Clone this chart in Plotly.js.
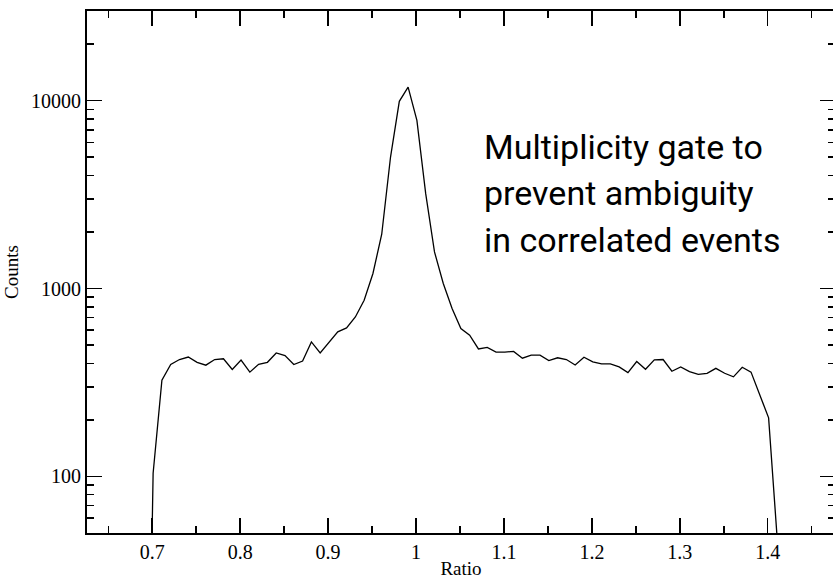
<!DOCTYPE html>
<html>
<head>
<meta charset="utf-8">
<script src="https://cdn.plot.ly/plotly-3.0.1.min.js"></script>
<style>html,body{margin:0;padding:0;overflow:hidden;background:#fff;}#chart{width:836px;height:579px;}</style>
</head>
<body>
<div id="chart"></div>
<script>
// Ratio bin positions
const ratio = [0.691,0.701,0.711,0.721,0.731,0.741,0.751,0.761,0.771,0.781,0.791,
  0.801,0.811,0.821,0.831,0.841,0.851,0.861,0.871,0.881,0.891,
  0.901,0.911,0.921,0.931,0.941,0.951,0.961,0.971,0.981,0.991,
  1.001,1.011,1.021,1.031,1.041,1.051,1.061,1.071,1.081,1.091,
  1.101,1.111,1.121,1.131,1.141,1.151,1.161,1.171,1.181,1.191,
  1.201,1.211,1.221,1.231,1.241,1.251,1.261,1.271,1.281,1.291,
  1.301,1.311,1.321,1.331,1.341,1.351,1.361,1.371,1.381,1.391,
  1.401,1.411];
// Counts per bin
const counts = [0.2,104,325,394,419,432,405,391,419,423,371,
  416,359,395,405,454,440,394,411,520,454,
  518,588,617,706,866,1203,1946,5010,9920,11810,
  7860,3200,1567,1064,783,612,565,477,486,459,
  459,463,426,442,442,414,428,419,392,431,
  407,397,397,383,357,409,372,417,419,363,
  383,361,349,354,376,354,339,381,359,270,
  205,45];
const xMajor = [0.7,0.8,0.9,1.0,1.1,1.2,1.3,1.4];
const xMajorText = ['0.7','0.8','0.9','1','1.1','1.2','1.3','1.4'];
const yMajor = [100,1000,10000];
const yMajorText = ['100','1000','10000'];
const yMinor = [60,70,80,90,200,300,400,500,600,700,800,900,2000,3000,4000,5000,6000,7000,8000,9000,20000];
const noteLines = ['Multiplicity gate to','prevent ambiguity','in correlated events'];
const noteY = [0.7824, 0.6929, 0.6034];

const serif = 'Liberation Serif, Times New Roman, serif';
const yRange = [Math.log10(50), Math.log10(30000)];

const trace = {
  x: ratio, y: counts, type: 'scatter', mode: 'lines',
  line: {color: '#000', width: 1.3}, hoverinfo: 'skip', showlegend: false
};

const layout = {
  width: 836, height: 579,
  margin: {l: 87, r: 1, t: 11, b: 46},
  paper_bgcolor: '#fff', plot_bgcolor: '#fff',
  showlegend: false,
  xaxis: {
    range: [0.6258, 1.4765],
    tickvals: xMajor, ticktext: xMajorText,
    ticks: 'inside', ticklen: 15, tickwidth: 1.5, tickcolor: '#000',
    minor: {dtick: 0.05, tick0: 0, ticks: 'inside', ticklen: 7, tickwidth: 1.5, tickcolor: '#000'},
    showline: true, linecolor: '#000', linewidth: 2, mirror: 'ticks',
    showgrid: false, zeroline: false,
    tickfont: {family: serif, size: 20, color: '#000'},
    title: {text: 'Ratio', font: {family: serif, size: 19, color: '#000'}, standoff: 1}
  },
  yaxis: {
    type: 'log', range: yRange,
    tickvals: yMajor, ticktext: yMajorText,
    ticks: 'inside', ticklen: 15, tickwidth: 1.5, tickcolor: '#000',
    minor: {tickvals: yMinor, ticks: 'inside', ticklen: 7, tickwidth: 1.5, tickcolor: '#000'},
    showline: true, linecolor: '#000', linewidth: 2, mirror: 'ticks',
    showgrid: false, zeroline: false,
    tickfont: {family: serif, size: 20, color: '#000'},
    title: {text: 'Counts', font: {family: serif, size: 19, color: '#000'}, standoff: 7}
  },
  annotations: noteLines.map((t, i) => ({
    xref: 'paper', yref: 'paper', x: 0.528, y: noteY[i],
    xanchor: 'left', yanchor: 'top', align: 'left',
    text: t, showarrow: false,
    font: {family: 'Roboto, sans-serif', size: 34, color: '#000'}
  }))
};

Plotly.newPlot('chart', [trace], layout, {staticPlot: true, displayModeBar: false});
</script>
</body>
</html>
